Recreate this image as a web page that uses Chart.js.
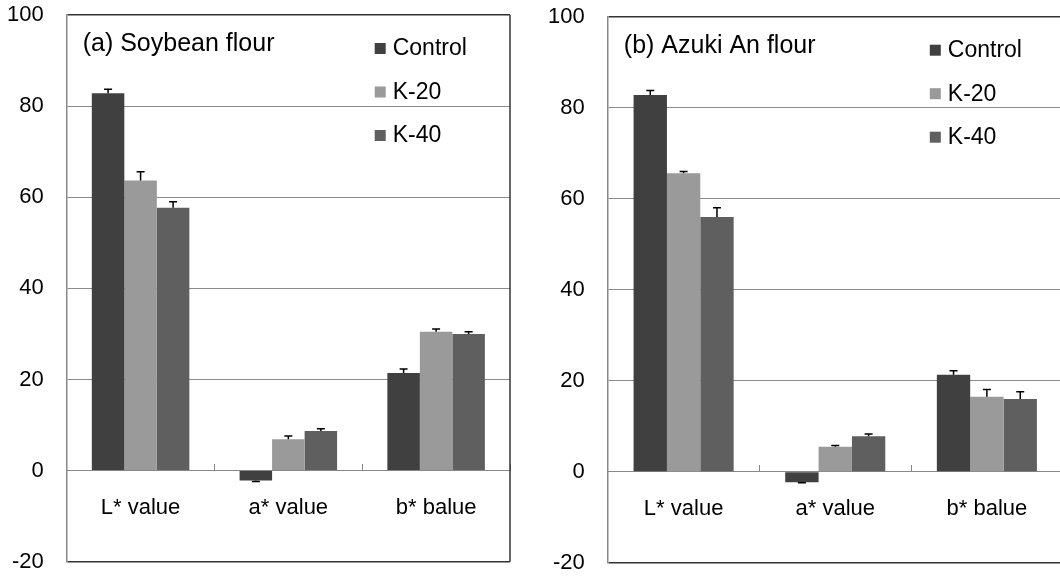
<!DOCTYPE html>
<html lang="en">
<head>
    <meta charset="UTF-8">
    <title>Color values of flours</title>
    <script src="https://cdn.jsdelivr.net/npm/chart.js"></script>
    <style>
        body {
            margin: 0;
            background-color: #ffffff;
            width: 1060px;
            height: 576px;
            overflow: hidden;
            position: relative;
        }

        canvas {
            position: absolute;
            top: 0;
        }

        #chartA { left: 0; }
        #chartB { left: 530px; } /* right frame runs a bit past the window edge */
    </style>
</head>
<body>
<canvas id="chartA" width="530" height="576"></canvas>
<canvas id="chartB" width="540" height="576"></canvas>

<script>
    const categories = ['L* value', 'a* value', 'b* balue'];
    const seriesNames = ['Control', 'K-20', 'K-40'];
    const seriesColors = ['#404040', '#9a9a9a', '#5f5f5f'];
    const yMin = -20;
    const yMax = 100;
    const yStep = 20;

    // (a) Soybean flour
    const soyControl = [82.8, -2.2, 21.4];
    const soyK20 = [63.7, 6.9, 30.5];
    const soyK40 = [57.7, 8.7, 30.0];
    const soyControlErr = [0.9, 0.2, 0.9];
    const soyK20Err = [1.9, 0.7, 0.6];
    const soyK40Err = [1.3, 0.5, 0.5];

    // (b) Azuki An flour
    const azukiControl = [82.8, -2.3, 21.3];
    const azukiK20 = [65.6, 5.5, 16.5];
    const azukiK40 = [56.0, 7.8, 16.0];
    const azukiControlErr = [1.0, 0.1, 0.9];
    const azukiK20Err = [0.4, 0.3, 1.6];
    const azukiK40Err = [2.0, 0.5, 1.6];

    const fontFamily = "'Liberation Sans', Arial, sans-serif";
    Chart.defaults.font.family = fontFamily;
    Chart.defaults.color = '#000000';

    // error bars, frame, panel title and legend drawn inside the plot area
    const panelDecor = {
        id: 'panelDecor',
        afterDatasetsDraw(chart, args, opts) {
            const ctx = chart.ctx;
            const area = chart.chartArea;
            const y = chart.scales.y;
            ctx.save();

            ctx.strokeStyle = '#000000';
            ctx.lineWidth = 1.5;
            chart.data.datasets.forEach((ds, i) => {
                chart.getDatasetMeta(i).data.forEach((bar, j) => {
                    const v = ds.data[j];
                    const end = y.getPixelForValue(v + Math.sign(v) * ds.errors[j]);
                    ctx.beginPath();
                    ctx.moveTo(bar.x, bar.y);
                    ctx.lineTo(bar.x, end);
                    ctx.moveTo(bar.x - 4, end);
                    ctx.lineTo(bar.x + 4, end);
                    ctx.stroke();
                });
            });

            ctx.strokeStyle = '#333333';
            ctx.lineWidth = 1.5;
            ctx.beginPath();
            ctx.moveTo(area.right, area.top);
            ctx.lineTo(area.right, area.bottom);
            ctx.stroke();

            ctx.fillStyle = '#000000';
            ctx.textAlign = 'left';
            ctx.textBaseline = 'middle';
            ctx.font = '25px ' + fontFamily;
            ctx.fillText(opts.title, area.left + 16, area.top + 29);

            ctx.font = '23px ' + fontFamily;
            chart.data.datasets.forEach((ds, i) => {
                const lx = area.left + opts.legendX;
                const ly = area.top + 33 + i * 43.5;
                ctx.fillStyle = ds.backgroundColor;
                ctx.fillRect(lx, ly - 5, 11, 11);
                ctx.fillStyle = '#000000';
                ctx.fillText(ds.label, lx + 18, ly + 1);
            });
            ctx.restore();
        }
    };

    function makePanel(id, title, values, errors, axisWidth, padding, legendX) {
        const datasets = seriesNames.map((name, i) => ({
            label: name,
            data: values[i],
            errors: errors[i],
            backgroundColor: seriesColors[i],
            borderWidth: 0,
            categoryPercentage: 0.66,
            barPercentage: 1.0
        }));

        return new Chart(document.getElementById(id), {
            type: 'bar',
            data: { labels: categories, datasets: datasets },
            options: {
                responsive: false,
                animation: false,
                layout: { padding: padding },
                plugins: {
                    legend: { display: false },
                    tooltip: { enabled: false },
                    panelDecor: { title: title, legendX: legendX }
                },
                scales: {
                    x: {
                        position: { y: 0 },
                        grid: {
                            offset: true,
                            drawOnChartArea: false,
                            drawTicks: true,
                            tickLength: -7,
                            color: '#888888'
                        },
                        border: { display: true, color: '#888888', width: 1 },
                        ticks: { font: { size: 22 }, padding: 31, color: '#000000' }
                    },
                    y: {
                        min: yMin,
                        max: yMax,
                        afterFit: (scale) => { scale.width = axisWidth; },
                        grid: {
                            drawTicks: true,
                            tickLength: 23,
                            tickColor: 'rgba(0,0,0,0)',
                            color: (c) => (c.tick && (c.tick.value === yMax || c.tick.value === yMin)) ? '#333333' : '#8a8a8a',
                            lineWidth: (c) => (c.tick && (c.tick.value === yMax || c.tick.value === yMin)) ? 1.5 : 1
                        },
                        border: { display: true, color: '#888888', width: 1.5 },
                        ticks: { stepSize: yStep, font: { size: 22 }, padding: 0, color: '#000000' }
                    }
                }
            },
            plugins: [panelDecor]
        });
    }

    makePanel('chartA', '(a) Soybean flour',
        [soyControl, soyK20, soyK40],
        [soyControlErr, soyK20Err, soyK40Err],
        66.7, { left: 0, right: 20, top: 15, bottom: 14.3 }, 308);

    makePanel('chartB', '(b) Azuki An flour',
        [azukiControl, azukiK20, azukiK40],
        [azukiControlErr, azukiK20Err, azukiK40Err],
        77.8, { left: 0, right: 7.3, top: 16.7, bottom: 12.7 }, 322);
</script>
</body>
</html>
